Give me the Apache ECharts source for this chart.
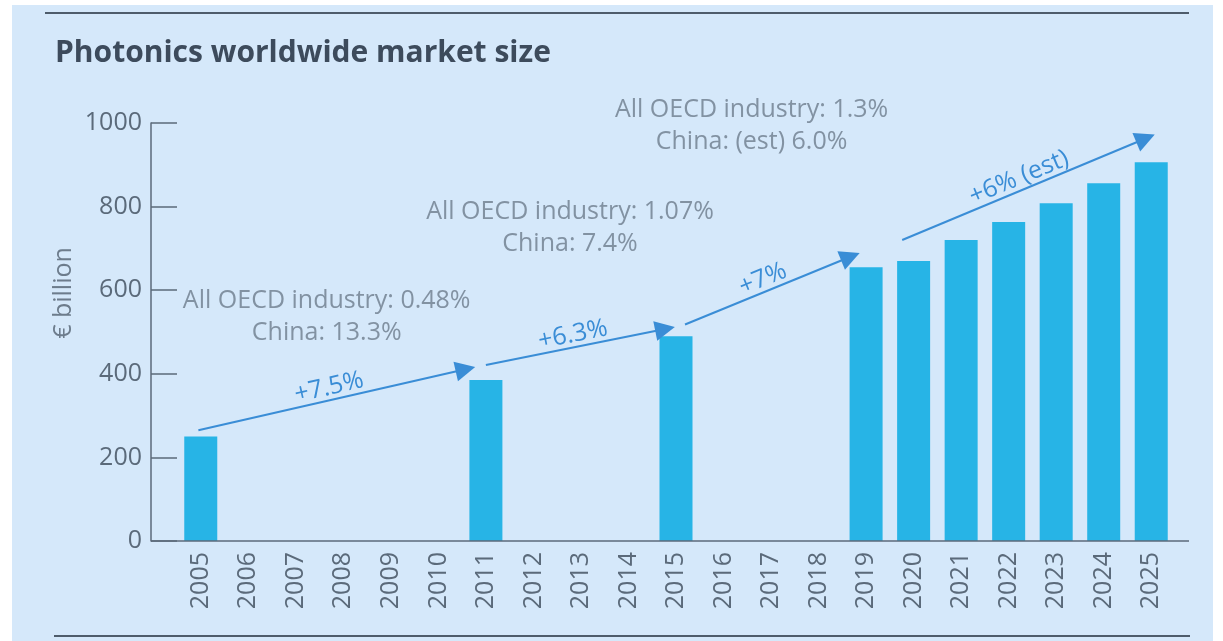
<!DOCTYPE html>
<html>
<head>
<meta charset="utf-8">
<script src="https://cdn.jsdelivr.net/npm/echarts@6/dist/echarts.min.js"></script>
<style>
html,body{margin:0;padding:0;background:#ffffff;}
#chart{width:1223px;height:641px;}
</style>
</head>
<body>
<div id="chart"></div>
<script>
// ---- data ----
var years = ['2005','2006','2007','2008','2009','2010','2011','2012','2013','2014','2015','2016','2017','2018','2019','2020','2021','2022','2023','2024','2025'];
var marketSize = [250, null, null, null, null, null, 385, null, null, null, 490, null, null, null, 655, 670, 720, 763, 808, 856, 906];
var yTicks = [0, 200, 400, 600, 800, 1000];
// growth arrows: [startIndex, startValue, endIndex, endValue, label]
var growthArrows = [
  [-0.05, 265, 5.57, 411, '+7.5%'],
  [6.0, 421, 9.77, 507, '+6.3%'],
  [10.19, 518, 13.67, 680, '+7%'],
  [14.76, 720, 19.88, 963, '+6% (est)']
];
// growth notes: [centerIndex, centerValue, text]
var growthNotes = [
  [2.65, 535, 'All OECD industry: 0.48%\nChina: 13.3%'],
  [7.77, 749, 'All OECD industry: 1.07%\nChina: 7.4%'],
  [11.59, 994, 'All OECD industry: 1.3%\nChina: (est) 6.0%']
];

var FONT = '"Open Sans", Lato, sans-serif';
var GRAY = '#6d7c8c';
var AXIS = '#5b6a7a';
var BLUE = '#3a8dd6';

var chart = echarts.init(document.getElementById('chart'));
chart.setOption({
  backgroundColor: '#ffffff',
  animation: false,
  graphic: [
    { type: 'rect', z: -10, shape: { x: 12, y: 5, width: 1201, height: 636 }, style: { fill: '#d5e8fa' } },
    { type: 'line', shape: { x1: 45, y1: 13, x2: 1189, y2: 13 }, style: { stroke: '#4e5c6b', lineWidth: 2 } },
    { type: 'line', shape: { x1: 54, y1: 636, x2: 1190, y2: 636 }, style: { stroke: '#4e5c6b', lineWidth: 2 } },
    { type: 'line', shape: { x1: 151, y1: 541, x2: 1189, y2: 541 }, style: { stroke: AXIS, lineWidth: 1.5 }, z: 5 },
    { type: 'text', left: 55, top: 38, style: { text: 'Photonics worldwide market size', font: 'bold 30px ' + FONT, fill: '#3d4b5c' } },
    { type: 'text', x: 64, y: 293, rotation: Math.PI / 2, style: { text: '€ billion', font: '25px ' + FONT, fill: GRAY, align: 'center', verticalAlign: 'middle' } }
  ],
  grid: { left: 177, right: 48, top: 123, bottom: 100 },
  xAxis: [
    {
      type: 'category', data: years,
      axisLine: { show: false }, axisTick: { show: false },
      axisLabel: { rotate: 90, margin: 11, fontSize: 25, fontFamily: FONT, color: AXIS, interval: 0 }
    },
    { type: 'value', min: -0.5, max: 20.5, show: false }
  ],
  yAxis: {
    type: 'value', min: 0, max: 1000, interval: 200, offset: 26,
    axisLine: { show: true, onZero: false, lineStyle: { color: AXIS, width: 1.5 } },
    axisTick: { show: true, inside: true, length: 26, lineStyle: { color: AXIS, width: 1.5 } },
    axisLabel: { margin: 9, fontSize: 25, fontFamily: FONT, color: AXIS,
      formatter: function (v) { return yTicks.indexOf(v) >= 0 ? String(v) : ''; } },
    splitLine: { show: false }
  },
  series: [
    {
      type: 'bar', data: marketSize, barWidth: 33,
      itemStyle: { color: '#27b4e6' }
    },
    {
      type: 'lines', coordinateSystem: 'cartesian2d', xAxisIndex: 1, yAxisIndex: 0,
      symbol: ['none', 'triangle'], symbolSize: [14, 20],
      lineStyle: { color: BLUE, width: 2, opacity: 1 },
      label: { show: true, position: 'middle', color: BLUE, fontSize: 25, fontFamily: FONT,
        formatter: function (p) { return p.data.name; } },
      data: growthArrows.map(function (a) {
        return { name: a[4], coords: [[a[0], a[1]], [a[2], a[3]]] };
      }),
      z: 4
    },
    {
      type: 'scatter', xAxisIndex: 1, yAxisIndex: 0, symbolSize: 0, silent: true,
      label: { show: true, position: 'inside', color: GRAY, fontSize: 25, fontFamily: FONT,
        lineHeight: 32, align: 'center', verticalAlign: 'middle',
        formatter: function (p) { return p.data[2]; } },
      data: growthNotes
    }
  ]
});
</script>
</body>
</html>
